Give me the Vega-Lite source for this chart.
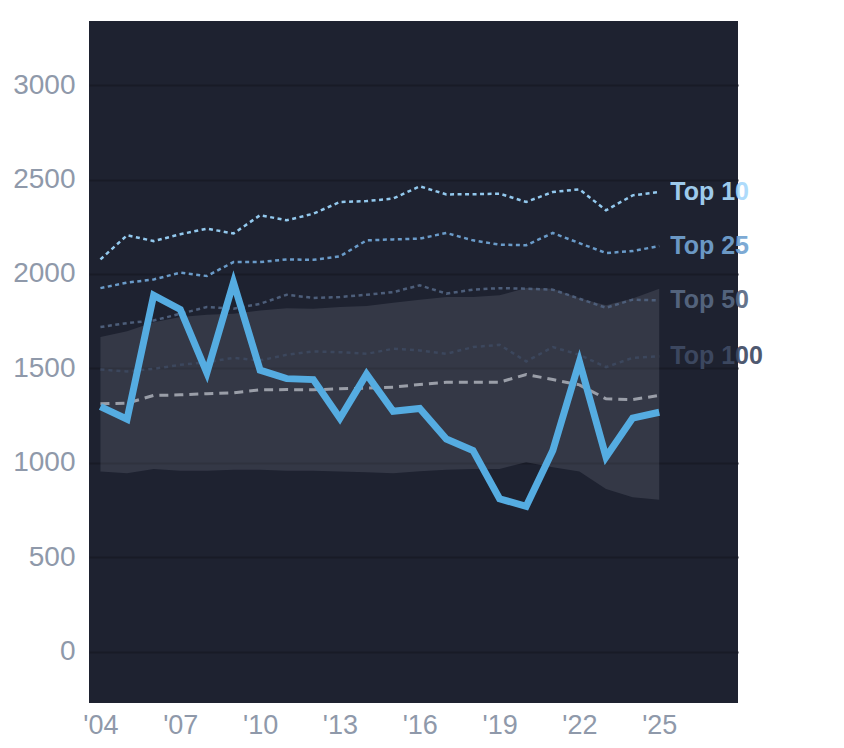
{
  "$schema": "https://vega.github.io/schema/vega-lite/v6.json",
  "width": 649,
  "height": 682,
  "autosize": {"type": "none"},
  "padding": {"left": 89, "top": 21, "right": 106, "bottom": 45},
  "background": "#ffffff",
  "config": {
    "view": {"fill": "#1e2230", "stroke": null},
    "font": "Liberation Sans"
  },
  "datasets": {
    "years": [
      {"year": 2004, "main": 1298, "med": 1313, "lo": 954, "hi": 1666, "t10": 2077, "t25": 1925, "t50": 1719, "t100": 1494},
      {"year": 2005, "main": 1231, "med": 1316, "lo": 945, "hi": 1697, "t10": 2205, "t25": 1954, "t50": 1740, "t100": 1484},
      {"year": 2006, "main": 1887, "med": 1357, "lo": 968, "hi": 1745, "t10": 2174, "t25": 1971, "t50": 1754, "t100": 1498},
      {"year": 2007, "main": 1812, "med": 1360, "lo": 959, "hi": 1772, "t10": 2210, "t25": 2007, "t50": 1789, "t100": 1519},
      {"year": 2008, "main": 1477, "med": 1366, "lo": 959, "hi": 1784, "t10": 2240, "t25": 1989, "t50": 1825, "t100": 1533},
      {"year": 2009, "main": 1955, "med": 1371, "lo": 963, "hi": 1789, "t10": 2214, "t25": 2063, "t50": 1816, "t100": 1556},
      {"year": 2010, "main": 1491, "med": 1387, "lo": 963, "hi": 1807, "t10": 2311, "t25": 2063, "t50": 1842, "t100": 1542},
      {"year": 2011, "main": 1446, "med": 1388, "lo": 959, "hi": 1819, "t10": 2284, "t25": 2077, "t50": 1890, "t100": 1572},
      {"year": 2012, "main": 1441, "med": 1387, "lo": 958, "hi": 1816, "t10": 2319, "t25": 2075, "t50": 1873, "t100": 1590},
      {"year": 2013, "main": 1236, "med": 1392, "lo": 954, "hi": 1825, "t10": 2381, "t25": 2093, "t50": 1878, "t100": 1586},
      {"year": 2014, "main": 1470, "med": 1396, "lo": 950, "hi": 1830, "t10": 2386, "t25": 2178, "t50": 1890, "t100": 1577},
      {"year": 2015, "main": 1273, "med": 1401, "lo": 945, "hi": 1848, "t10": 2399, "t25": 2183, "t50": 1904, "t100": 1604},
      {"year": 2016, "main": 1288, "med": 1415, "lo": 956, "hi": 1864, "t10": 2464, "t25": 2187, "t50": 1940, "t100": 1595},
      {"year": 2017, "main": 1126, "med": 1427, "lo": 964, "hi": 1878, "t10": 2421, "t25": 2217, "t50": 1896, "t100": 1577},
      {"year": 2018, "main": 1066, "med": 1427, "lo": 968, "hi": 1878, "t10": 2422, "t25": 2178, "t50": 1917, "t100": 1613},
      {"year": 2019, "main": 810, "med": 1427, "lo": 968, "hi": 1887, "t10": 2425, "t25": 2155, "t50": 1925, "t100": 1625},
      {"year": 2020, "main": 770, "med": 1468, "lo": 1003, "hi": 1926, "t10": 2381, "t25": 2152, "t50": 1922, "t100": 1537},
      {"year": 2021, "main": 1065, "med": 1441, "lo": 977, "hi": 1922, "t10": 2434, "t25": 2217, "t50": 1917, "t100": 1613},
      {"year": 2022, "main": 1536, "med": 1413, "lo": 954, "hi": 1872, "t10": 2448, "t25": 2163, "t50": 1869, "t100": 1572},
      {"year": 2023, "main": 1031, "med": 1339, "lo": 862, "hi": 1834, "t10": 2337, "t25": 2111, "t50": 1821, "t100": 1507},
      {"year": 2024, "main": 1237, "med": 1335, "lo": 818, "hi": 1870, "t10": 2416, "t25": 2121, "t50": 1864, "t100": 1556},
      {"year": 2025, "main": 1268, "med": 1357, "lo": 805, "hi": 1922, "t10": 2434, "t25": 2148, "t50": 1860, "t100": 1565}
    ],
    "labels": [
      {"year": 2025, "value": 2434, "label": "Top 10"},
      {"year": 2025, "value": 2148, "label": "Top 25"},
      {"year": 2025, "value": 1860, "label": "Top 50"},
      {"year": 2025, "value": 1565, "label": "Top 100"}
    ]
  },
  "data": {"name": "years"},
  "encoding": {
    "x": {
      "field": "year",
      "type": "quantitative",
      "scale": {"domain": [2003.57, 2027.96], "nice": false, "zero": false},
      "axis": {
        "title": null,
        "values": [2004, 2007, 2010, 2013, 2016, 2019, 2022, 2025],
        "labelExpr": "\"'\" + format(datum.value % 100, '02d')",
        "grid": false,
        "ticks": false,
        "domain": false,
        "labelFontSize": 27,
        "labelColor": "#8f99aa",
        "labelPadding": 9
      }
    }
  },
  "layer": [
    {
      "mark": {"type": "area", "color": "#8a90a0", "opacity": 0.2},
      "encoding": {
        "y": {
          "field": "lo",
          "type": "quantitative",
          "scale": {"domain": [-271, 3339], "nice": false, "zero": false},
          "axis": {
            "title": null,
            "values": [0, 500, 1000, 1500, 2000, 2500, 3000],
            "format": "d",
            "grid": true,
            "gridColor": "#181b26",
            "gridWidth": 2,
            "ticks": false,
            "domain": false,
            "labelFontSize": 28,
            "labelColor": "#8f99aa",
            "labelPadding": 14
          }
        },
        "y2": {"field": "hi"}
      }
    },
    {
      "mark": {"type": "line", "color": "#3c475d", "strokeWidth": 2.5, "strokeDash": [4, 4]},
      "encoding": {"y": {"field": "t100", "type": "quantitative"}}
    },
    {
      "mark": {"type": "line", "color": "#4d5e7a", "strokeWidth": 2.5, "strokeDash": [4, 3.5]},
      "encoding": {"y": {"field": "t50", "type": "quantitative"}}
    },
    {
      "mark": {"type": "line", "color": "#6a9bc9", "strokeWidth": 2.5, "strokeDash": [4, 3.5]},
      "encoding": {"y": {"field": "t25", "type": "quantitative"}}
    },
    {
      "mark": {"type": "line", "color": "#93c9ee", "strokeWidth": 2.5, "strokeDash": [4, 3.5]},
      "encoding": {"y": {"field": "t10", "type": "quantitative"}}
    },
    {
      "mark": {"type": "line", "color": "#9a9ea8", "strokeWidth": 3, "strokeDash": [9, 6]},
      "encoding": {"y": {"field": "med", "type": "quantitative"}}
    },
    {
      "mark": {"type": "line", "color": "#55ace1", "strokeWidth": 7},
      "encoding": {"y": {"field": "main", "type": "quantitative"}}
    },
    {
      "data": {"name": "labels"},
      "mark": {"type": "text", "align": "left", "baseline": "middle", "dx": 11, "fontSize": 25, "fontWeight": "bold", "opacity": 0.92},
      "encoding": {
        "y": {"field": "value", "type": "quantitative"},
        "text": {"field": "label"},
        "color": {
          "field": "label",
          "type": "nominal",
          "scale": {"domain": ["Top 10", "Top 25", "Top 50", "Top 100"], "range": ["#a8d9fb", "#72a3d1", "#586983", "#3f4b64"]},
          "legend": null
        }
      }
    }
  ]
}
